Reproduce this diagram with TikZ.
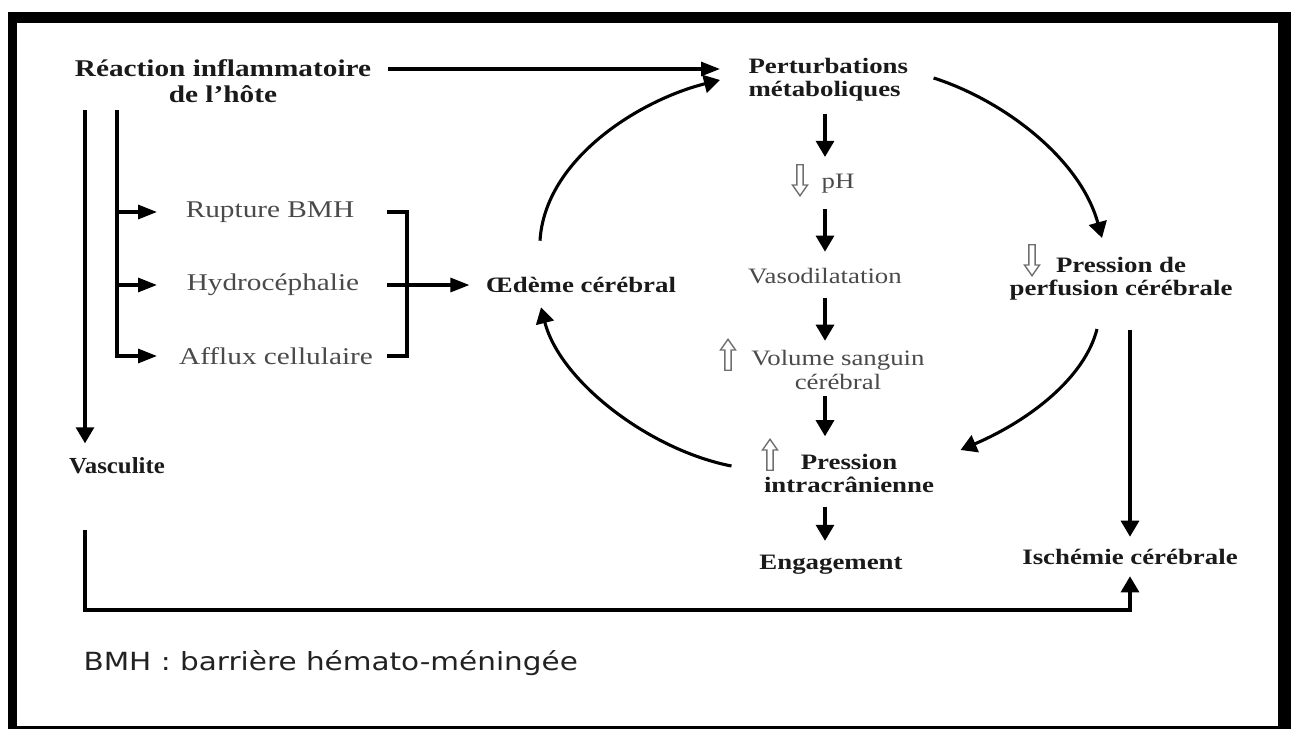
\documentclass[tikz,border=0pt]{standalone}
\usepackage{fontspec}
\usepackage{xcolor}
\setmainfont{Liberation Serif}[FakeStretch=1.22]
\newfontfamily\narrowserif{Liberation Serif}[FakeStretch=1.08]
\newfontfamily\legendfont{DejaVu Sans}[FakeStretch=1.18]
\usetikzlibrary{arrows.meta,shapes.arrows}

\definecolor{ink}{HTML}{1A1A1A}
\definecolor{grayink}{HTML}{4A4A4A}
\definecolor{hollowgray}{HTML}{707070}
\definecolor{legendink}{HTML}{222222}

\begin{document}
\begin{tikzpicture}[x=1pt,y=-1pt,line width=3.1pt,>={Triangle[length=16pt,width=18pt]},
    bold node/.style={inner sep=0pt,align=center,text=ink,font=\bfseries\fontsize{22}{23}\selectfont},
    big node/.style={bold node,font=\bfseries\fontsize{24}{26}\selectfont},
    gray node/.style={inner sep=0pt,align=center,text=grayink,font=\fontsize{22}{24}\selectfont},
    side node/.style={gray node,font=\fontsize{24}{26}\selectfont},
    hollow/.style={single arrow,draw=hollowgray,line width=1.4pt,minimum height=31pt,minimum width=15pt,
        single arrow head extend=4pt,single arrow tip angle=70,inner sep=2.2pt},
    hollow down/.style={hollow,rotate=-90},
    hollow up/.style={hollow,rotate=90},
    harrow/.style={-{Triangle[length=19pt,width=14pt]}}]

    \useasboundingbox (0,0) rectangle (1291,729);

    % frame
    \fill (8,12) rectangle (17,729);
    \fill (8,12) rectangle (1291,23);
    \fill (1278,12) rectangle (1291,729);
    \fill (8,726) rectangle (1291,728.5);

    % text nodes
    \node[big node] (reaction) at (223,81) {Réaction inflammatoire\\de l’hôte};
    \node[bold node,align=left,anchor=west] (perturb) at (747,80) {Perturbations\\métaboliques};
    \node[gray node] (ph) at (838,184) {pH};
    \node[gray node] (vaso) at (825,276) {Vasodilatation};
    \node[gray node] (volume) at (838,370) {Volume sanguin\\cérébral};
    \node[bold node] (pic) at (849,473) {Pression\\intracrânienne};
    \node[bold node] (engage) at (831,565) {Engagement};
    \node[bold node] (perfusion) at (1121,279) {Pression de\\perfusion cérébrale};
    \node[bold node] (ischemie) at (1130,557) {Ischémie cérébrale};
    \node[bold node] (oedeme) at (581,285) {Œdème cérébral};
    \node[bold node,font=\narrowserif\bfseries\fontsize{23}{24}\selectfont] (vasculite) at (117,466) {Vasculite};
    \node[side node] (rupture) at (270,212) {Rupture BMH};
    \node[side node] (hydro) at (273,285) {Hydrocéphalie};
    \node[side node] (afflux) at (276,356) {Afflux cellulaire};
    \node[anchor=west,inner sep=0pt,text=legendink,font=\legendfont\fontsize{25}{30}\selectfont] (legend) at (82,663) {BMH : barrière hémato-méningée};

    % hollow arrows
    \node[hollow down] (phdown) at (800,178) {};
    \node[hollow up] (volup) at (728,357) {};
    \node[hollow up] (picup) at (770,457) {};
    \node[hollow down] (perfdown) at (1032,258) {};

    \coordinate (trunk) at (85,110);
    \coordinate (branch) at (117,110);
    \coordinate (tipcol) at (157,0);
    \coordinate (brackin) at (387,0);
    \coordinate (brackout) at (407,0);
    \coordinate (spine) at (825,0);
    \coordinate (floor) at (86,610);

    % left side
    \draw[->,shorten >=13pt] (trunk) -- (trunk |- vasculite.north);
    \foreach \n in {rupture,hydro}
        \draw[harrow] (branch |- \n) -- (tipcol |- \n);
    \draw[harrow] (branch) |- (tipcol |- afflux);
    \draw (brackin |- rupture) -| (brackout |- afflux) -- (brackin |- afflux);
    \draw[harrow,shorten >=15pt] (brackin |- oedeme) -- (oedeme.west);
    \draw[->,shorten <=54pt,shorten >=10pt] (trunk |- vasculite.south) |- (floor -| ischemie.south) -- (ischemie.south);

    % top
    \draw[harrow] ([shift={(15,-12)}]reaction.east) -- ([shift={(-27,-11)}]perturb.west);

    % centre column
    \draw[->,shorten <=11pt,shorten >=16pt] (spine |- perturb.south) -- (spine |- ph.north);
    \draw[->,shorten <=14pt,shorten >=15pt] (spine |- ph.south) -- (spine |- vaso.north);
    \draw[->,shorten <=13pt,shorten >=8pt] (spine |- vaso.south) -- (spine |- volume.north);
    \draw[->,shorten <=5pt,shorten >=16pt] (spine |- volume.south) -- (spine |- pic.north);
    \draw[->,shorten <=13pt,shorten >=13pt] (spine |- pic.south) -- (spine |- engage.north);

    % right side
    \draw[->,shorten <=28pt,shorten >=11pt] (ischemie.north |- perfusion.south) -- (ischemie.north);

    % loop
    \draw[->] ([shift={(-41,-35)}]oedeme.north) .. controls +(5,-82) and +(-80,20) .. ([shift={(-27,0)}]perturb.west);
    \draw[->] ([shift={(24,-2)}]perturb.east) .. controls +(69,22) and +(-22,-80) .. ([shift={(-19,-18)}]perfusion.north);
    \draw[->] ([shift={(-24,27)}]perfusion.south) .. controls +(-12,48) and +(70,-30) .. ([shift={(25,-23)}]pic.east);
    \draw[->] ([shift={(-31,-7)}]pic.west) .. controls +(-82,-16) and +(19,74) .. ([shift={(-40,13)}]oedeme.south);
\end{tikzpicture}
\end{document}
